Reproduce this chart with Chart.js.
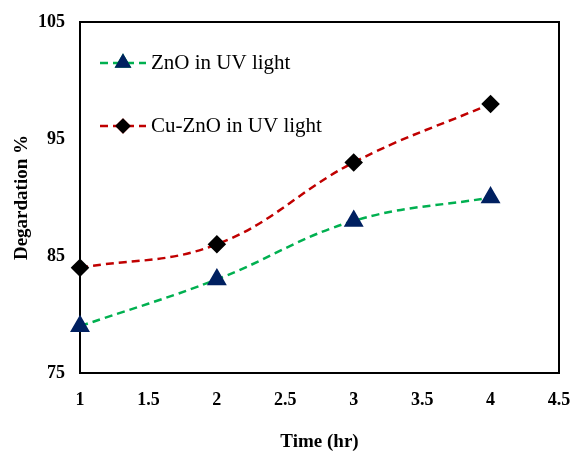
<!DOCTYPE html>
<html>
<head>
<meta charset="utf-8">
<script src="https://cdn.jsdelivr.net/npm/chart.js@4/dist/chart.umd.min.js"></script>
<style>
  html, body { margin: 0; padding: 0; background: #fff; }
  #wrap { width: 573px; height: 455px; }
</style>
</head>
<body>
<div id="wrap"><canvas id="chart" width="573" height="455"></canvas></div>
<script>
const times = [1, 2, 3, 4]
const znoUV = [79, 83, 88, 90]
const cuZnoUV = [84, 86, 93, 98]
const xTicks = [1, 1.5, 2, 2.5, 3, 3.5, 4, 4.5]
const yTicks = [75, 85, 95, 105]

const serif = 'Liberation Serif, Times New Roman, serif'

// box around the plot area
const frame = {
    id: 'frame',
    beforeDatasetsDraw(chart) {
        const {ctx, chartArea: a} = chart
        ctx.save()
        ctx.strokeStyle = '#000'
        ctx.lineWidth = 2
        ctx.strokeRect(a.left, a.top, a.right - a.left, a.bottom - a.top)
        ctx.restore()
    }
}

// legend drawn inside the plot, like Excel
const innerLegend = {
    id: 'innerLegend',
    afterDraw(chart) {
        const ctx = chart.ctx
        chart.data.datasets.forEach((ds, i) => {
            const y = 63 + i * 63
            ctx.save()
            ctx.strokeStyle = ds.borderColor
            ctx.lineWidth = ds.borderWidth
            ctx.setLineDash(ds.borderDash)
            ctx.beginPath()
            ctx.moveTo(100, y)
            ctx.lineTo(146, y)
            ctx.stroke()
            ctx.setLineDash([])
            Chart.helpers.drawPoint(ctx, {
                pointStyle: ds.pointStyle,
                radius: ds.pointRadius * 0.8,
                borderWidth: 1
            }, 123, y)
            ctx.fillStyle = ds.pointBackgroundColor
            ctx.strokeStyle = ds.pointBorderColor
            ctx.fill()
            ctx.stroke()
            ctx.fillStyle = '#000'
            ctx.font = '21px ' + serif
            ctx.textBaseline = 'middle'
            ctx.fillText(ds.label, 151, y)
            ctx.restore()
        })
    }
}

new Chart(document.querySelector('#chart').getContext('2d'), {
    type: 'line',
    data: {
        datasets: [
            {
                label: 'ZnO in UV light',
                data: times.map((t, i) => ({x: t, y: znoUV[i]})),
                borderColor: '#00B050',
                borderWidth: 2.5,
                borderDash: [8, 5],
                pointStyle: 'triangle',
                pointRadius: 9,
                pointBackgroundColor: '#002060',
                pointBorderColor: '#002060',
                tension: 0.4,
                clip: false
            },
            {
                label: 'Cu-ZnO in UV light',
                data: times.map((t, i) => ({x: t, y: cuZnoUV[i]})),
                borderColor: '#C00000',
                borderWidth: 2.5,
                borderDash: [8, 5],
                pointStyle: 'rectRot',
                pointRadius: 7.5,
                pointBackgroundColor: '#000',
                pointBorderColor: '#000',
                tension: 0.4,
                clip: false
            }
        ]
    },
    options: {
        responsive: false,
        animation: false,
        layout: {padding: {left: 0, top: 22, right: 14, bottom: 0}},
        plugins: {legend: {display: false}, tooltip: {enabled: false}},
        scales: {
            x: {
                type: 'linear',
                min: 1,
                max: 4.5,
                afterBuildTicks: s => { s.ticks = xTicks.map(v => ({value: v})) },
                afterFit: s => { s.height = 82; s.paddingLeft = 0; s.paddingRight = 0 },
                grid: {display: false, drawTicks: false},
                border: {display: false},
                ticks: {
                    padding: 17,
                    color: '#000',
                    font: {family: serif, size: 18, weight: 'bold'},
                    maxRotation: 0,
                    callback: v => String(v)
                },
                title: {
                    display: true,
                    text: 'Time (hr)',
                    color: '#000',
                    font: {family: serif, size: 19, weight: 'bold'},
                    padding: {top: 10, bottom: 2}
                }
            },
            y: {
                min: 75,
                max: 105,
                afterBuildTicks: s => { s.ticks = yTicks.map(v => ({value: v})) },
                afterFit: s => { s.width = 80; s.paddingTop = 0; s.paddingBottom = 0 },
                grid: {display: false, drawTicks: false},
                border: {display: false},
                ticks: {
                    padding: 15,
                    color: '#000',
                    font: {family: serif, size: 18, weight: 'bold'}
                },
                title: {
                    display: true,
                    text: 'Degardation %',
                    color: '#000',
                    font: {family: serif, size: 19, weight: 'bold'},
                    padding: {top: 11, bottom: 0}
                }
            }
        }
    },
    plugins: [frame, innerLegend]
})
</script>
</body>
</html>
